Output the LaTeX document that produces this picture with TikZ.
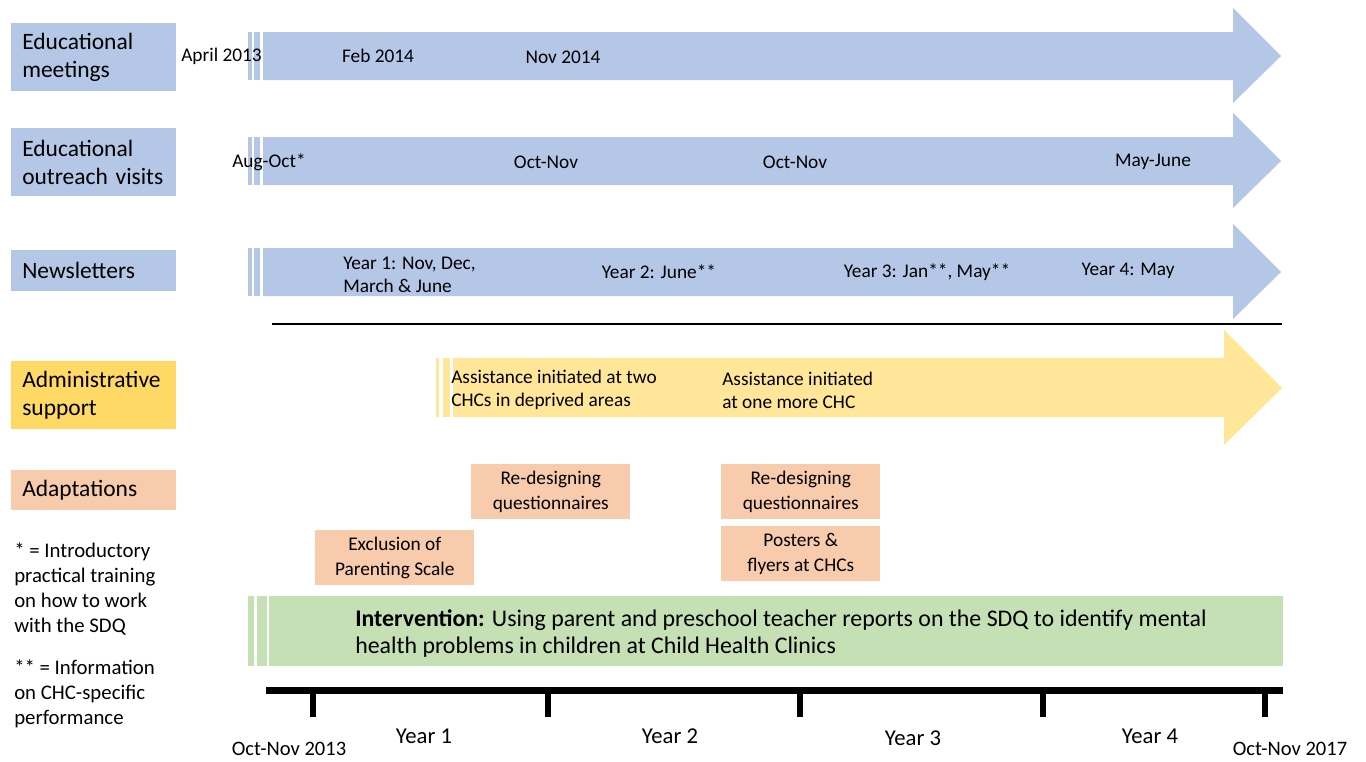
\documentclass[tikz,border=0pt]{standalone}
\usepackage{fontspec}
\setmainfont{Carlito}
\definecolor{eblue}{HTML}{B4C7E7}
\definecolor{egold}{HTML}{FFD966}
\definecolor{elgold}{HTML}{FFE699}
\definecolor{esalmon}{HTML}{F8CBAD}
\definecolor{egreen}{HTML}{C5E0B4}
\begin{document}
\begin{tikzpicture}[x=0.75pt,y=-0.75pt,
  lab/.style={anchor=north west,inner xsep=8.25pt,inner ysep=0pt,text width=107.25pt,align=left,
    minimum height=51pt,font=\fontsize{17.6pt}{21.3pt}\selectfont},
  sm/.style={inner sep=0pt,font=\fontsize{14.5pt}{17.3pt}\selectfont},
  smleft/.style={sm,anchor=west,align=left},
  adbox/.style={anchor=north west,fill=esalmon,inner sep=0pt,minimum width=119.25pt,minimum height=41.25pt,
    align=center,font=\fontsize{14.5pt}{18.75pt}\selectfont},
  note/.style={anchor=west,inner sep=0pt,align=left,font=\fontsize{15.6pt}{18.75pt}\selectfont},
  yr/.style={inner sep=0pt,font=\fontsize{17pt}{20pt}\selectfont},
  dt/.style={inner sep=0pt,font=\fontsize{15.4pt}{18pt}\selectfont}]
\useasboundingbox (0,0) rectangle (1366,761);

% left labels
\node[lab,fill=eblue] (lmeet) at (11,23) {Educational meetings};
\node[lab,fill=eblue] (lvis) at (11,128) {Educational outreach visits};
\node[lab,fill=eblue,minimum height=30.75pt] (lnews) at (11,250) {Newsletters};
\node[lab,fill=egold] (ladm) at (11,361) {Administrative support};
\node[lab,fill=esalmon,minimum height=30pt] (lada) at (11,470) {Adaptations};

% blue arrows
\foreach \t/\b/\ht/\hb/\c in {32/80/8/103/56, 137/185/113/208/161, 248/296/224/319/272}{
  \fill[eblue] (248,\t) rectangle (252,\b);
  \fill[eblue] (254,\t) rectangle (260,\b);
  \fill[eblue] (263,\t) -- (1233,\t) -- (1233,\ht) -- (1281,\c) -- (1233,\hb) -- (1233,\b) -- (263,\b) -- cycle;
}
% separator
\draw[line width=1.2pt] (272,324) -- (1282,324);

% admin arrow
\fill[elgold] (436,358) rectangle (439,417);
\fill[elgold] (443,358) rectangle (450,417);
\fill[elgold] (453,358) -- (1224,358) -- (1224,330) -- (1282,388) -- (1224,445) -- (1224,417) -- (453,417) -- cycle;

% intervention bar
\fill[egreen] (248,596) rectangle (254,666);
\fill[egreen] (257,596) rectangle (267,666);
\node[anchor=north west,fill=egreen,inner sep=0pt,minimum width=760.5pt,minimum height=52.5pt] (intv) at (269,596) {};
\node[anchor=west,inner sep=0pt,align=left,font=\fontsize{17.9pt}{20.25pt}\selectfont] (intvt) at (355,634)
  {\textbf{Intervention:} Using parent and preschool teacher reports on the SDQ to identify mental\\health problems in children at Child Health Clinics};

% arrow texts
\node[smleft] (t1) at (181,56) {April 2013};
\node[sm] (t2) at (378,56) {Feb 2014};
\node[sm] (t3) at (563,57) {Nov 2014};
\node[sm] (t4) at (269,162) {Aug-Oct*};
\node[sm] (t5) at (546,162) {Oct-Nov};
\node[sm] (t6) at (795,162) {Oct-Nov};
\node[sm] (t7) at (1153,162) {May-June};
\node[smleft] (t8) at (343,275) {Year 1: Nov, Dec,\\March \& June};
\node[sm] (t9) at (659,272) {Year 2: June**};
\node[sm] (t10) at (927,272) {Year 3: Jan**, May**};
\node[sm] (t11) at (1128,271) {Year 4: May};
\node[smleft] (t12) at (451,390) {Assistance initiated at two\\CHCs in deprived areas};
\node[smleft] (t13) at (722,390) {Assistance initiated\\at one more CHC};

% adaptation boxes
\node[adbox] (a1) at (471,464) {Re-designing\\questionnaires};
\node[adbox] (a2) at (721,464) {Re-designing\\questionnaires};
\node[adbox] (a3) at (721,526) {Posters \&\\flyers at CHCs};
\node[adbox] (a4) at (315,530) {Exclusion of\\Parenting Scale};

% footnotes
\node[note] (n1) at (14,589) {* = Introductory\\practical training\\on how to work\\with the SDQ};
\node[note] (n2) at (14,694) {** = Information\\on CHC-specific\\performance};

% timeline
\coordinate (tl0) at (266,690);
\coordinate (tl1) at (1283,690);
\draw[line width=5.25pt] (tl0) -- (tl1);
\foreach \x in {313,548,800,1043,1265}{
  \draw[line width=4.5pt] (\x,690) -- (\x,717);
}
\node[dt] (d1) at (289,749) {Oct-Nov 2013};
\node[yr] (y1) at (424,736) {Year 1};
\node[yr] (y2) at (670,736) {Year 2};
\node[yr] (y3) at (913,738) {Year 3};
\node[yr] (y4) at (1150,736) {Year 4};
\node[dt] (d2) at (1290,749) {Oct-Nov 2017};
\end{tikzpicture}
\end{document}
